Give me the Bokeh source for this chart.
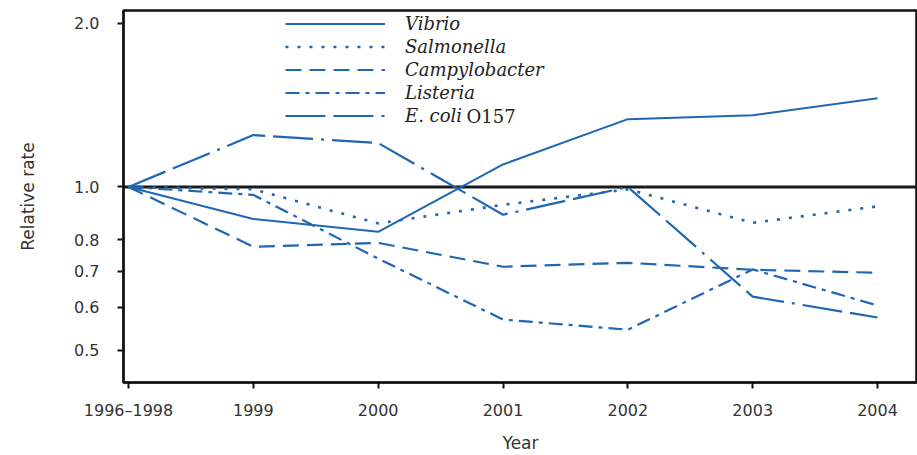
from bokeh.plotting import figure
from bokeh.models import Range1d, FixedTicker, Span, Legend, LegendItem, Label, CustomJSTickFormatter
from bokeh.embed import file_html
from bokeh.resources import INLINE

# ---- data (relative rates) ----
years = ["1996\u20131998", "1999", "2000", "2001", "2002", "2003", "2004"]
vibrio = [1.0, 0.873, 0.827, 1.10, 1.333, 1.355, 1.457]
salmonella = [1.0, 0.99, 0.857, 0.927, 0.99, 0.859, 0.921]
campylobacter = [1.0, 0.776, 0.789, 0.713, 0.725, 0.704, 0.695]
listeria = [1.0, 0.967, 0.738, 0.570, 0.546, 0.705, 0.605]
ecoli = [1.0, 1.246, 1.205, 0.889, 1.0, 0.628, 0.575]
series_names = ["Vibrio", "Salmonella", "Campylobacter", "Listeria", "E. coli"]
y_ticks = [0.5, 0.6, 0.7, 0.8, 1.0, 2.0]

x = list(range(len(years)))

BLUE = "#1f66b3"
DARK = "#111111"
TEXT = "#333333"

p = figure(width=917, height=455, y_axis_type="log",
           x_range=Range1d(-0.04, 6.32), y_range=Range1d(0.4365, 2.113),
           output_backend="svg", toolbar_location=None,
           min_border_left=123, min_border_right=0, min_border_top=10, min_border_bottom=72)

p.grid.visible = False
p.outline_line_color = DARK
p.outline_line_width = 2.5
p.background_fill_color = "white"
p.border_fill_color = "white"

# reference line at 1.0
p.add_layout(Span(location=1.0, dimension="width", line_color="#1a1a1a",
                  line_width=3, level="underlay"))

dashes = ["solid", "3 9", "16 8", "14 6 4 6", "40 8 40 8 3 8"]
widths = [2, 2.6, 2.2, 2.2, 2.2]
values = [vibrio, salmonella, campylobacter, listeria, ecoli]
renderers = []
for vals, dash, w in zip(values, dashes, widths):
    r = p.line(x, vals, line_color=BLUE, line_width=w, line_dash=dash)
    renderers.append(r)

# axes
p.xaxis.ticker = FixedTicker(ticks=x)
p.xaxis.major_label_overrides = {i: lab for i, lab in zip(x, years)}
p.yaxis.ticker = FixedTicker(ticks=y_ticks)
p.yaxis.formatter = CustomJSTickFormatter(code="return tick.toFixed(1);")

for ax in (p.xaxis[0], p.yaxis[0]):
    ax.axis_line_color = DARK
    ax.axis_line_width = 2
    ax.major_tick_line_color = DARK
    ax.major_tick_line_width = 2
    ax.major_tick_out = 6
    ax.major_tick_in = 0
    ax.minor_tick_out = 0
    ax.minor_tick_in = 0
    ax.major_label_text_font = "DejaVu Sans"
    ax.major_label_text_font_size = "16px"
    ax.major_label_text_color = TEXT
    ax.axis_label_text_font = "DejaVu Sans"
    ax.axis_label_text_font_style = "normal"
    ax.axis_label_text_font_size = "17px"
    ax.axis_label_text_color = TEXT

p.yaxis.axis_label = "Relative rate"
p.yaxis.major_label_standoff = 18
p.yaxis.axis_label_standoff = 33
p.xaxis.axis_label = "Year"
p.xaxis.major_label_standoff = 12
p.xaxis.axis_label_standoff = 10

legend = Legend(items=[LegendItem(label=n, renderers=[r]) for n, r in zip(series_names, renderers)],
                location=(162, 256), glyph_width=100, glyph_height=21, label_height=21,
                spacing=2, padding=0, margin=0, label_standoff=20,
                border_line_color=None, background_fill_alpha=0,
                label_text_font="DejaVu Serif", label_text_font_style="italic",
                label_text_font_size="18px", label_text_color="#222222")
p.add_layout(legend)

p.add_layout(Label(x=343, y=266, x_units="screen", y_units="screen", text="O157",
                   text_font="DejaVu Serif", text_font_size="18px",
                   text_baseline="middle", text_color="#222222"))

open("out.html", "w").write(file_html(p, INLINE))
